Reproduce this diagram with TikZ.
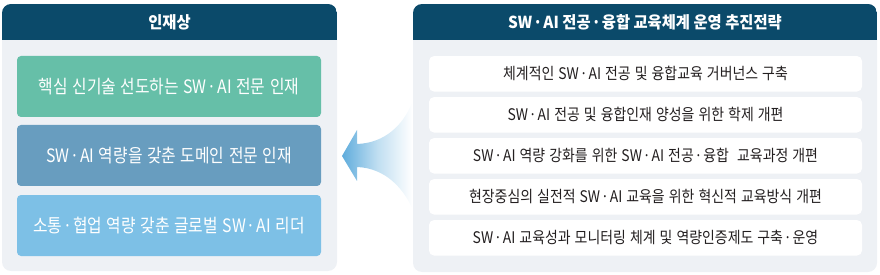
\documentclass[tikz,border=0pt]{standalone}
\usepackage{fontspec}
\setmainfont{Noto Sans CJK KR}
\newfontfamily\krL[FakeStretch=0.855,WordSpace=1.3]{Noto Sans CJK KR}
\newfontfamily\krR[FakeStretch=0.87,WordSpace=1.3]{Noto Sans CJK KR}
\newfontfamily\krH[FakeStretch=0.93]{Noto Sans CJK KR}
\newcommand{\mdot}{\kern0.9pt·\kern0.9pt}
\definecolor{hdr}{HTML}{0B4A6A}
\definecolor{panelbg}{HTML}{EEF1F5}
\definecolor{gboxA}{HTML}{66BFA8}
\definecolor{gboxB}{HTML}{689DBF}
\definecolor{gboxC}{HTML}{7DC0E6}
\definecolor{txtdark}{HTML}{231F20}
\definecolor{arrowblue}{HTML}{5FACDC}
\tikzset{
  panel/.style={fill=panelbg, rounded corners=9pt},
  hdrbar/.style={fill=hdr},
  hdrtext/.style={text=white, font=\krH\fontsize{16.5}{18}\selectfont\bfseries},
  leftbox/.style={rounded corners=4pt, minimum width=304pt, minimum height=61pt, inner sep=0pt, text=white, font=\krL\fontsize{18.5}{21}\selectfont},
  rightbox/.style={fill=white, rounded corners=5pt, minimum width=433pt, minimum height=35.5pt, inner sep=0pt, text=txtdark, font=\krR\fontsize{16}{18}\selectfont}
}
\begin{document}
\begin{tikzpicture}[x=1pt,y=-1pt]
\useasboundingbox (0,0) rectangle (880,275);
% left panel
\fill[panel] (2,4) rectangle (337,271);
\begin{scope}
\clip[rounded corners=9pt] (2,4) rectangle (337,60);
\fill[hdrbar] (2,4) rectangle (337,40);
\end{scope}
\node[hdrtext] (lhead) at (169.5,22) {인재상};
\node[leftbox, fill=gboxA] (l1) at (169,86.5) {핵심 신기술 선도하는 SW\mdot AI 전문 인재};
\node[leftbox, fill=gboxB] (l2) at (169,155.5) {SW\mdot AI 역량을 갖춘 도메인 전문 인재};
\node[leftbox, fill=gboxC] (l3) at (169,225.5) {소통\mdot 협업 역량 갖춘 글로벌 SW\mdot AI 리더};
% right panel
\fill[panel] (413,4) rectangle (877,272);
\begin{scope}
\clip[rounded corners=9pt] (413,4) rectangle (877,60);
\fill[hdrbar] (413,4) rectangle (877,40);
\end{scope}
\node[hdrtext] (rhead) at (645,22) {SW\mdot AI 전공\mdot 융합 교육체계 운영 추진전략};
\node[rightbox] (r1) at (645.5,73.8) {체계적인 SW\mdot AI 전공 및 융합교육 거버넌스 구축};
\node[rightbox] (r2) at (645.5,114.8) {SW\mdot AI 전공 및 융합인재 양성을 위한 학제 개편};
\node[rightbox] (r3) at (645.5,155.8) {SW\mdot AI 역량 강화를 위한 SW\mdot AI 전공\mdot 융합\ \ 교육과정 개편};
\node[rightbox] (r4) at (645.5,196.8) {현장중심의 실전적 SW\mdot AI 교육을 위한 혁신적 교육방식 개편};
\node[rightbox] (r5) at (645.5,237.8) {SW\mdot AI 교육성과 모니터링 체계 및 역량인증제도 구축\mdot 운영};
% arrow
\shade[left color=arrowblue, right color=white, middle color=arrowblue!40]
  (342,156) -- (357,130) -- (357,144)
  .. controls (385,143) and (403,125) .. (412,103)
  -- (412,208)
  .. controls (403,188) and (385,168) .. (357,167)
  -- (357,181) -- cycle;
\end{tikzpicture}
\end{document}
